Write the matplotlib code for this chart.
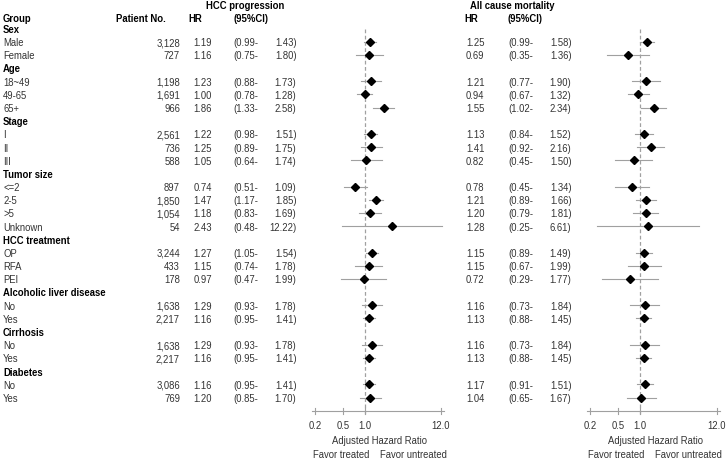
import matplotlib
matplotlib.use("Agg")
import matplotlib.pyplot as plt

plt.rcParams['font.family'] = ['Liberation Sans', 'DejaVu Sans']

# ---------------- data ----------------
row_labels = ["Sex", "Male", "Female",
              "Age", "18~49", "49-65", "65+",
              "Stage", "I", "II", "III",
              "Tumor size", "<=2", "2-5", ">5", "Unknown",
              "HCC treatment", "OP", "RFA", "PEI",
              "Alcoholic liver disease", "No", "Yes",
              "Cirrhosis", "No", "Yes",
              "Diabetes", "No", "Yes"]
is_header = [True, False, False,
             True, False, False, False,
             True, False, False, False,
             True, False, False, False, False,
             True, False, False, False,
             True, False, False,
             True, False, False,
             True, False, False]
patient_no = [None, "3,128", "727",
              None, "1,198", "1,691", "966",
              None, "2,561", "736", "588",
              None, "897", "1,850", "1,054", "54",
              None, "3,244", "433", "178",
              None, "1,638", "2,217",
              None, "1,638", "2,217",
              None, "3,086", "769"]
hcc_hr = [None, 1.19, 1.16, None, 1.23, 1.00, 1.86, None, 1.22, 1.25, 1.05,
          None, 0.74, 1.47, 1.18, 2.43, None, 1.27, 1.15, 0.97,
          None, 1.29, 1.16, None, 1.29, 1.16, None, 1.16, 1.20]
hcc_lo = [None, 0.99, 0.75, None, 0.88, 0.78, 1.33, None, 0.98, 0.89, 0.64,
          None, 0.51, 1.17, 0.83, 0.48, None, 1.05, 0.74, 0.47,
          None, 0.93, 0.95, None, 0.93, 0.95, None, 0.95, 0.85]
hcc_hi = [None, 1.43, 1.80, None, 1.73, 1.28, 2.58, None, 1.51, 1.75, 1.74,
          None, 1.09, 1.85, 1.69, 12.22, None, 1.54, 1.78, 1.99,
          None, 1.78, 1.41, None, 1.78, 1.41, None, 1.41, 1.70]
mort_hr = [None, 1.25, 0.69, None, 1.21, 0.94, 1.55, None, 1.13, 1.41, 0.82,
           None, 0.78, 1.21, 1.20, 1.28, None, 1.15, 1.15, 0.72,
           None, 1.16, 1.13, None, 1.16, 1.13, None, 1.17, 1.04]
mort_lo = [None, 0.99, 0.35, None, 0.77, 0.67, 1.02, None, 0.84, 0.92, 0.45,
           None, 0.45, 0.89, 0.79, 0.25, None, 0.89, 0.67, 0.29,
           None, 0.73, 0.88, None, 0.73, 0.88, None, 0.91, 0.65]
mort_hi = [None, 1.58, 1.36, None, 1.90, 1.32, 2.34, None, 1.52, 2.16, 1.50,
           None, 1.34, 1.66, 1.81, 6.61, None, 1.49, 1.99, 1.77,
           None, 1.84, 1.45, None, 1.84, 1.45, None, 1.51, 1.67]
tick_vals = [0.2, 0.5, 1.0, 12.0]
tick_labels = ["0.2", "0.5", "1.0", "12.0"]

# ---------------- layout ----------------
W, H = 727, 460
FS = 6.85
TXT = '#333333'
GRAY = '#a0a0a0'
row_y = [29.5 + 13.18 * i for i in range(len(row_labels))]
header_y = 19.0
title_y = 6.0
axis_y = 411.5
BL = 3.4   # centre -> baseline offset (px)

fig = plt.figure(figsize=(W / 100, H / 100), dpi=100)
tax = fig.add_axes([0, 0, 1, 1])
tax.set_xlim(0, W)
tax.set_ylim(H, 0)
tax.axis('off')

def t(x, y, s, ha='left', bold=False, color=None, ax=None):
    (ax or tax).text(x, y + BL, s, ha=ha, va='baseline', fontsize=FS,
                     fontweight='bold' if bold else 'normal',
                     color=color if color else ('black' if bold else TXT))

# headers
t(3, header_y, "Group", bold=True)
t(116.5, header_y, "Patient No.", bold=True)
t(245, title_y, "HCC progression", ha='center', bold=True)
t(188, header_y, "HR", bold=True)
t(233, header_y, "(95%CI)", bold=True)
t(512, title_y, "All cause mortality", ha='center', bold=True)
t(464, header_y, "HR", bold=True)
t(508, header_y, "(95%CI)", bold=True)

blocks = [(hcc_hr, hcc_lo, hcc_hi, 212, 233, 296.5),
          (mort_hr, mort_lo, mort_hi, 484.5, 508, 571.5)]

for i, lab in enumerate(row_labels):
    y = row_y[i]
    t(3, y, lab, bold=is_header[i])
    if is_header[i]:
        continue
    t(180, y, patient_no[i], ha='right')
    for hr, lo, hi, xhr, xlo, xhi in blocks:
        t(xhr, y, f"{hr[i]:.2f}", ha='right')
        t(xlo, y, f"({lo[i]:.2f}-", ha='left')
        t(xhi, y, f"{hi[i]:.2f})", ha='right')

# forest panels
panels = [(315, 126, hcc_hr, hcc_lo, hcc_hi),
          (590, 127, mort_hr, mort_lo, mort_hi)]
for x0, w, hr, lo, hi in panels:
    ax = fig.add_axes([x0 / W, 0, w / W, 1])
    ax.set_xscale('log')
    ax.set_xlim(0.2, 12)
    ax.set_ylim(H, 0)
    ax.axis('off')
    ax.plot([1, 1], [30, 417], color=GRAY, lw=0.9, ls=(0, (3, 2)), zorder=1)
    for i in range(len(row_labels)):
        if hr[i] is None:
            continue
        y = row_y[i]
        ax.plot([lo[i], hi[i]], [y, y], color=GRAY, lw=0.8, zorder=2,
                clip_on=False)
        ax.plot([hr[i]], [y], marker='D', ms=3.9, color='black', zorder=3,
                clip_on=False)
    ax.plot([0.2 / 1.1, 12 * 1.1], [axis_y, axis_y], color=GRAY, lw=0.8,
            clip_on=False)
    for tv, tl in zip(tick_vals, tick_labels):
        ax.plot([tv, tv], [axis_y - 3, axis_y + 3], color=GRAY, lw=0.8,
                clip_on=False)
        t(tv, 426, tl, ha='center', ax=ax)
    xc = (x0 + w / 2 + 2)
    t(xc, 440.5, "Adjusted Hazard Ratio", ha='center')
    t(x0 + 54.5, 455, "Favor treated", ha='right')
    t(x0 + 65, 455, "Favor untreated", ha='left')

fig.savefig("out.png", dpi=100)
